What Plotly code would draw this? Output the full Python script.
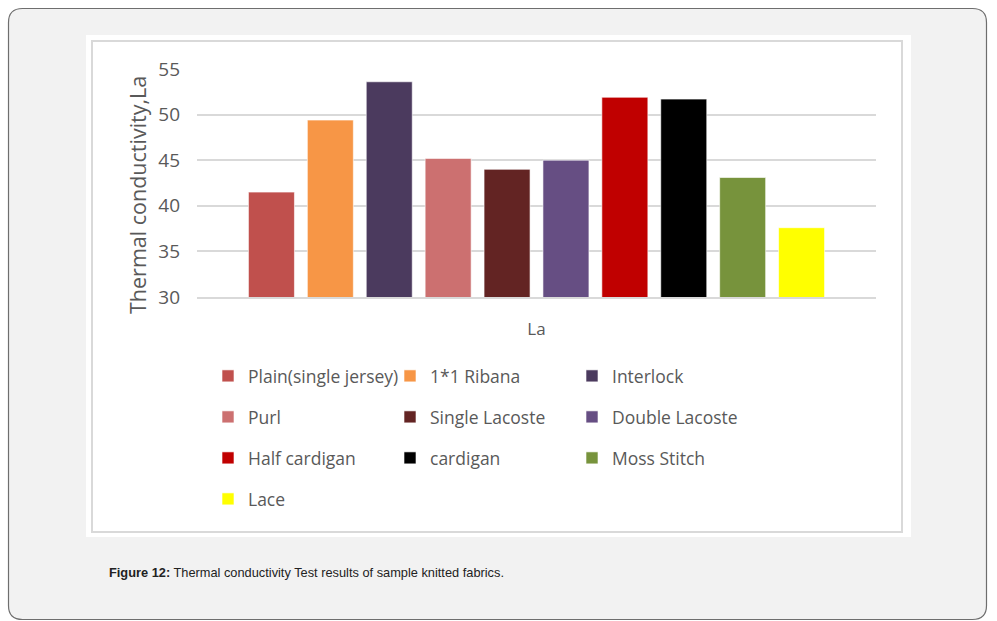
"""Thermal conductivity test results of sample knitted fabrics (Figure 12)."""

import plotly.graph_objects as go

# data
fabrics = [
    "Plain(single jersey)", "1*1 Ribana", "Interlock",
    "Purl", "Single Lacoste", "Double Lacoste",
    "Half cardigan", "cardigan", "Moss Stitch",
    "Lace",
]
conductivity = [41.5, 49.4, 53.6, 45.2, 44.0, 45.0, 51.9, 51.7, 43.1, 37.6]
bar_colors = [
    "#C0504D", "#F79646", "#4B3A5E",
    "#CC7070", "#632423", "#664E83",
    "#C00000", "#000000", "#77933C",
    "#FFFF00",
]
y_ticks = [30, 35, 40, 45, 50, 55]

W, H = 997, 621
L, R, T, B = 197, 876, 69, 297  # plot area in pixels
TEXT = "#595959"


def px_x(px):
    return (px - L) / (R - L)


def px_y(py):
    return (B - py) / (B - T)


def rounded_rect(x0, y0, x1, y1, r):
    """SVG path (paper coords) for a rounded rectangle given in pixels."""
    pts = [
        ("M", (x0 + r, y0)), ("L", (x1 - r, y0)), ("Q", (x1, y0), (x1, y0 + r)),
        ("L", (x1, y1 - r)), ("Q", (x1, y1), (x1 - r, y1)),
        ("L", (x0 + r, y1)), ("Q", (x0, y1), (x0, y1 - r)),
        ("L", (x0, y0 + r)), ("Q", (x0, y0), (x0 + r, y0)),
    ]
    out = []
    for cmd, *coords in pts:
        out.append(cmd + " ".join(f"{px_x(a):.5f},{px_y(b):.5f}" for a, b in coords))
    return " ".join(out) + " Z"


fig = go.Figure()

# one legend per row, three entries each
row_of = [1, 1, 1, 2, 2, 2, 3, 3, 3, 4]
for name, val, color, row in zip(fabrics, conductivity, bar_colors, row_of):
    fig.add_trace(
        go.Bar(
            name=name,
            x=["La"],
            y=[val],
            marker_color=color,
            marker_line={"color": "rgba(255,255,255,0.6)", "width": 1},
            legend="legend" if row == 1 else f"legend{row}",
        )
    )

legend_style = dict(
    orientation="h",
    xanchor="left",
    yanchor="middle",
    entrywidth=137,
    entrywidthmode="pixels",
    bgcolor="rgba(0,0,0,0)",
    font={"family": "Open Sans", "size": 17.5, "color": TEXT},
)
row_y = [376, 417, 458, 499]
legends = {}
for i, ry in enumerate(row_y, start=1):
    key = "legend" if i == 1 else f"legend{i}"
    legends[key] = dict(legend_style, x=px_x(208), y=px_y(ry))

shapes = [
    # outer grey card
    dict(type="path", xref="paper", yref="paper", layer="below",
         path=rounded_rect(8.5, 8.5, 986.5, 619.5, 14),
         fillcolor="#F2F2F2", line={"color": "#6E6E6E", "width": 1.2}),
    # white chart area
    dict(type="rect", xref="paper", yref="paper", layer="below",
         x0=px_x(86), x1=px_x(911), y0=px_y(537), y1=px_y(35),
         fillcolor="#FFFFFF", line={"width": 0}),
    # light frame inside it
    dict(type="rect", xref="paper", yref="paper", layer="below",
         x0=px_x(92), x1=px_x(902), y0=px_y(532), y1=px_y(41),
         fillcolor="rgba(0,0,0,0)", line={"color": "#D9D9D9", "width": 2}),
]

fig.update_layout(
    width=W,
    height=H,
    margin=dict(l=L, r=W - R, t=T, b=H - B, pad=0),
    paper_bgcolor="#FFFFFF",
    plot_bgcolor="rgba(0,0,0,0)",
    barmode="group",
    bargap=0.1325,
    bargroupgap=0.219,
    showlegend=True,
    shapes=shapes,
    font={"family": "Open Sans", "color": TEXT},
    xaxis=dict(
        showticklabels=False,
        showgrid=False,
        showline=True,
        linecolor="#D9D9D9",
        linewidth=1.5,
        title=dict(text="La", font={"size": 17, "color": TEXT}, standoff=25),
    ),
    yaxis=dict(
        range=[30, 55],
        tickvals=y_ticks,
        showgrid=True,
        gridcolor="#D9D9D9",
        gridwidth=1.5,
        zeroline=False,
        ticks="",
        ticklabelstandoff=16,
        tickfont={"size": 19, "color": TEXT},
    ),
    annotations=[
        # y axis title, sits a little below the plot's middle as in the original
        dict(
            xref="paper", yref="paper",
            x=px_x(137), y=px_y(195),
            xanchor="center", yanchor="middle",
            textangle=-90,
            showarrow=False,
            text="Thermal conductivity,La",
            font={"family": "Open Sans", "size": 21.5, "color": TEXT},
        ),
        dict(
            xref="paper", yref="paper",
            x=px_x(107), y=px_y(572),
            xanchor="left", yanchor="middle",
            showarrow=False,
            text="<b>Figure 12:</b> Thermal conductivity Test results of sample knitted fabrics.",
            font={"family": "Liberation Sans, Arial", "size": 12.8, "color": "#222222"},
        ),
    ],
    **legends,
)

fig.write_html(
    "out.html",
    config={"displayModeBar": False},
    post_script="document.body.style.margin='0';",
)
